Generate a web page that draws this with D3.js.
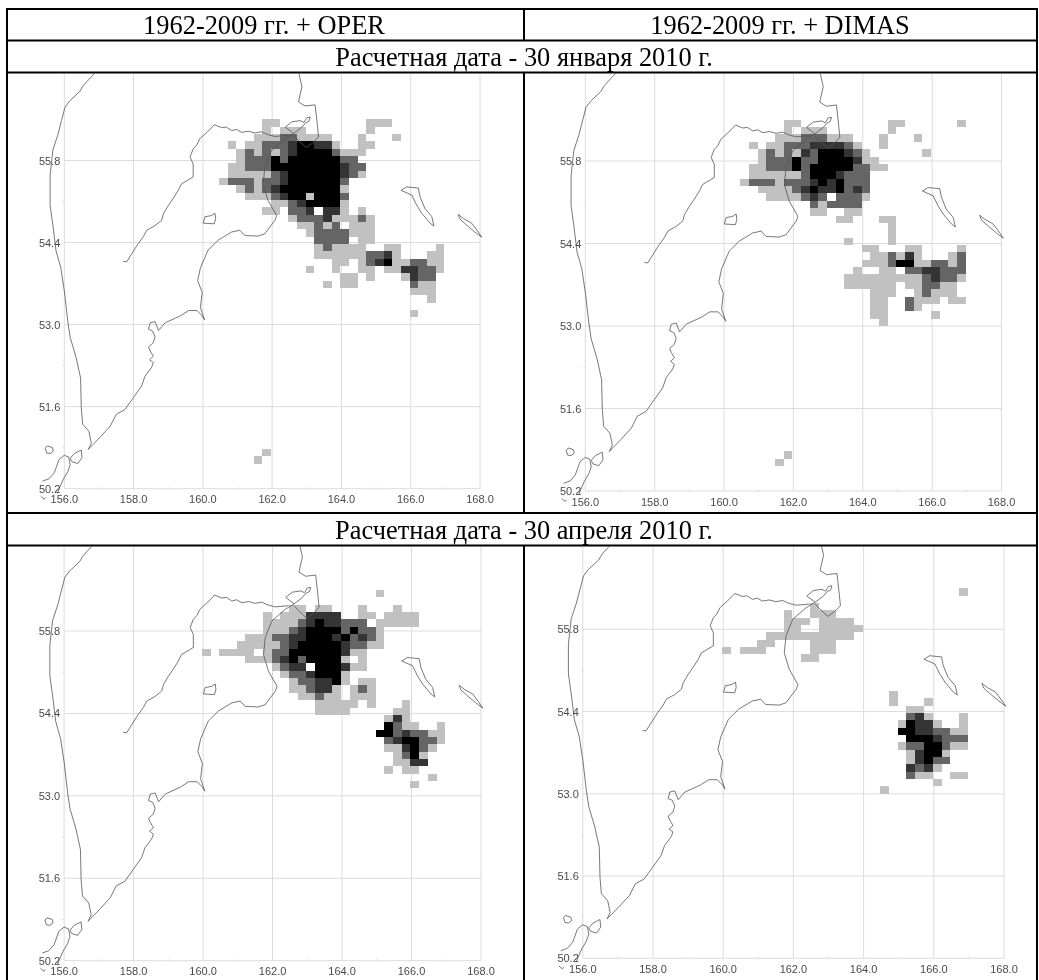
<!DOCTYPE html>
<html>
<head>
<meta charset="utf-8">
<script src="https://cdn.jsdelivr.net/npm/d3@7/dist/d3.min.js"></script>
<style>
html,body{margin:0;padding:0;background:#fff;}
svg{display:block;filter:blur(0.3px);}
.cells{filter:blur(0.35px);}
.tick-label{font-family:"Liberation Sans",Arial,sans-serif;font-size:11px;fill:#4a4a4a;}
.head{font-family:"Liberation Serif","Times New Roman",serif;font-size:26.4px;fill:#000;text-anchor:middle;}
</style>
</head>
<body>
<svg id="chart" width="1039" height="980"></svg>
<script>
// ---------- text ----------
const columnTitles = ["1962-2009 гг. + OPER", "1962-2009 гг. + DIMAS"];
const dateTitles = ["Расчетная дата - 30 января 2010 г.", "Расчетная дата - 30 апреля 2010 г."];
const lonTicks = [156, 158, 160, 162, 164, 166, 168];
const latTicks = [55.8, 54.4, 53.0, 51.6, 50.2];
const lonMinor = [157, 159, 161, 163, 165, 167];
const latMinor = [55.1, 53.7, 52.3, 50.9];

// ---------- model grid: 0.25 x 0.125 degree, rows from 56.5N, columns from 160E ----------
const cellLon = 0.25, cellLat = 0.125, gridLon0 = 159.97, gridLat0 = 56.5;
const levels = ["1", "2", "3", "4"];
const levelColors = ["#c1c1c1", "#656565", "#343434", "#000000"];

const gridOper = [
".......11..........111......",
".......1.111.......1........",
"......111221111...1...1.....",
"...1.11222344331..11........",
"....121212344442111.........",
"....12224244444422..........",
"...11222444444443 22.........".replace(" ", ""),
"...1111123444444321.........",
"..1222122344444 42...........".replace(" ", ""),
"....12123444444 41...........".replace(" ", ""),
".....11123441444 2...........".replace(" ", ""),
"........1123444 41...........".replace(" ", ""),
".......11.223.331.1.........",
"..........1222 3111 21........".replace(/ /g, ""),
"...........112 12.111........".replace(" ", ""),
"............12222111........",
".............2222.11........",
".............121111..11....1",
".............11111122 31...11".replace(" ", ""),
"...............11.123411 2211".replace(" ", ""),
"............1..1..11.1133221",
"................11.1...1322.",
"..............1.11......211.",
"........................111.",
"..........................1.",
"............................",
"........................1..."
];
const gridDimas = [
".......11..........11......1",
".......1.111.......1........",
"......111222111...1...1.....",
"...1.11222333321..1.........",
"....12121324443 21......1....".replace(" ", ""),
"....1222422444431 1..........".replace(" ", ""),
"...1122242444442 211.........".replace(" ", ""),
"...1111112444322 2...........".replace(" ", ""),
"..1222122234342 22...........".replace(" ", ""),
"....11112343342 32...........".replace(" ", ""),
".....1111232.2221...........",
"..........212222............",
"..........11..11............",
".............11...11........",
"...................1........",
"...................1........",
"..............1....1........",
"................11...11....1",
".................1121 31...12".replace(" ", ""),
"................11124411 2212".replace(" ", ""),
"...............1..11.2233222",
"..............111111111232 21".replace(" ", ""),
"..............111111.1122 11.".replace(" ", ""),
".................111..12111.",
".................11..2111.11",
".................11..21.....",
".................11.....1...",
"..................1........."
];
const gridDimasSouth = [".......1", "......1"];
const gridOperSouth = [".......1", "......1"];
const southRowStart = 45;

const gridOperApr = [
"....................1.......",
"............................",
"..........11.11...1...1.....",
".......1.1113333..11.1111...",
".......1111234 33222.11111...".replace(" ", ""),
".......11123444424221.......",
".....111223344434232 1.......".replace(" ", ""),
"....111112344444322 11.......".replace(" ", ""),
"1.1111.122444444311.........",
".....1112342444 41.1.........".replace(" ", ""),
"........12 33.44431 1.........".replace(/ /g, ""),
".........12234441...........",
"..........12233 41.11........".replace(" ", ""),
"..........11233 1.121........".replace(" ", ""),
"...........11211.111........",
".............11111.1...1....",
".............1111.....11....",
".....................131....",
".....................4211..1",
"....................44232211",
".....................2344221",
".....................113421.",
"......................1241..",
"......................113 3..".replace(" ", ""),
".....................1.11...",
"..........................1.",
"........................1..."
];
const gridDimasApr = [
"...........................1",
"............................",
"..........1.................",
".......1..111...............",
".......111.1111.............",
".......11..11111............",
".....1111111111.............",
"....11....111...............",
"1.111.....111...............",
".........11.................",
"............................",
"............................",
"............................",
"............................",
"...................1........",
"...................1...1....",
".....................11.....",
".....................231...1",
"....................14331..1",
"....................44332211",
".....................4443222",
"....................12244211",
".....................13441..",
".....................13422..",
".....................3231...",
".....................211..11",
"........................1...",
"..................1........."
];

// ---------- coastline, lon/lat ----------
const coastWest = [[156.90,57.30],[156.72,57.19],[156.55,57.08],[156.45,56.98],[156.16,56.82],[156.02,56.71],[155.92,56.48],[155.81,56.23],[155.67,55.98],[155.59,55.55],[155.59,55.04],[155.67,54.70],[155.76,54.26],[155.90,53.97],[155.97,53.69],[156.00,53.58],[156.10,53.06],[156.17,52.78],[156.34,52.44],[156.47,52.09],[156.49,51.58],[156.53,51.30],[156.71,51.18],[156.78,50.98],[156.69,50.87]];
const coastEast = [[156.69,50.87],[157.02,51.07],[157.33,51.27],[157.50,51.47],[157.75,51.55],[157.99,51.75],[158.23,51.95],[158.33,52.12],[158.52,52.27],[158.57,52.35],[158.46,52.40],[158.57,52.46],[158.48,52.55],[158.43,52.62],[158.57,52.69],[158.62,52.79],[158.55,52.89],[158.43,52.92],[158.48,53.03],[158.62,53.05],[158.72,52.90],[158.91,53.03],[159.35,53.15],[159.59,53.24],[159.83,53.24],[159.98,53.15],[160.05,53.08],[159.93,53.29],[159.98,53.55],[159.85,53.75],[159.93,53.97],[160.15,54.27],[160.44,54.44],[160.83,54.58],[161.07,54.61],[161.21,54.52],[161.60,54.51],[161.79,54.55],[162.08,54.78],[162.13,54.86],[161.88,55.12],[161.74,55.40],[161.79,55.69],[161.98,55.97],[162.37,56.17],[162.62,56.26],[162.38,56.37],[162.57,56.46],[162.81,56.48],[162.92,56.45],[163.00,56.53],[163.10,56.54],[163.06,56.47],[162.96,56.44],[162.86,56.37],[162.62,56.26]];
const coastNeck = [[162.76,57.32],[162.86,57.06],[162.76,56.80],[162.95,56.73],[163.24,56.75],[163.27,56.60],[163.31,56.38],[163.34,56.20],[163.17,56.10],[162.98,56.02],[162.78,56.13],[162.62,56.23]];
const coastNorth = [[162.46,56.23],[162.08,56.21],[161.88,56.24],[161.69,56.29],[161.50,56.27],[161.31,56.30],[161.12,56.28],[160.97,56.33],[160.83,56.31],[160.68,56.37],[160.54,56.36],[160.33,56.41],[160.17,56.31],[159.91,56.17],[159.82,56.06],[159.72,56.00],[159.63,55.86],[159.72,55.74],[159.72,55.52],[159.38,55.40],[159.29,55.29],[159.14,55.15],[159.00,55.03],[158.86,54.89],[158.81,54.78],[158.62,54.69],[158.38,54.61],[158.28,54.50],[158.13,54.38],[157.80,54.07],[157.70,54.08]];
const islandKarag = [[160.01,54.73],[160.06,54.84],[160.25,54.86],[160.35,54.90],[160.37,54.81],[160.33,54.72],[160.01,54.73]];
const islandBering = [[165.72,55.29],[165.88,55.35],[166.22,55.33],[166.27,55.18],[166.41,54.98],[166.61,54.84],[166.67,54.68],[166.56,54.73],[166.32,54.90],[166.17,55.04],[166.03,55.21],[165.72,55.29]];
const islandMedny = [[167.37,54.88],[167.52,54.81],[167.76,54.73],[167.95,54.58],[168.05,54.49],[167.85,54.58],[167.61,54.70],[167.42,54.80],[167.37,54.88]];
const islandAtlasov = [[155.45,50.89],[155.51,50.93],[155.66,50.90],[155.68,50.84],[155.59,50.80],[155.49,50.81],[155.45,50.89]];
const islandParam = [[155.37,50.33],[155.56,50.37],[155.71,50.47],[155.85,50.70],[156.00,50.77],[156.13,50.74],[156.17,50.61],[156.10,50.49],[155.97,50.36],[155.85,50.20],[155.81,50.13]];
const islandShumshu = [[156.17,50.72],[156.29,50.80],[156.49,50.86],[156.51,50.73],[156.39,50.63],[156.22,50.66],[156.17,50.72]];
const islandSouth = [[155.32,50.07],[155.42,50.02],[155.45,50.05]];
const coastLines = [coastWest, coastEast, coastNeck, coastNorth, islandKarag, islandBering, islandMedny, islandAtlasov, islandParam, islandShumshu, islandSouth];

// ---------- layout ----------
const colX = [7, 524, 1037];
const rowY = [9, 40.5, 72.5, 513, 545.5, 982];
const panels = [
  {grid: gridOper, south: gridOperSouth, x: [64.3, 480], y: [160.5, 488.7], clip: [8, 73.5, 515.5, 439]},
  {grid: gridDimas, south: gridDimasSouth, x: [585.3, 1001.5], y: [161, 491], clip: [525, 73.5, 511, 439]},
  {grid: gridOperApr, south: [], x: [64.1, 481], y: [631, 960.7], clip: [8, 546.5, 515.5, 434]},
  {grid: gridDimasApr, south: [], x: [582.8, 1004], y: [629.3, 958.3], clip: [525, 546.5, 511, 434]}
];

const svg = d3.select("#chart");
const color = d3.scaleOrdinal().domain(levels).range(levelColors);
const defs = svg.append("defs");

panels.forEach((p, i) => {
  const x = d3.scaleLinear().domain([156, 168]).range(p.x).interpolate(d3.interpolateNumber);
  const y = d3.scaleLinear().domain([55.8, 50.2]).range(p.y);
  defs.append("clipPath").attr("id", "clip" + i).append("rect")
    .attr("x", p.clip[0]).attr("y", p.clip[1]).attr("width", p.clip[2]).attr("height", p.clip[3]);
  const g = svg.append("g").attr("clip-path", "url(#clip" + i + ")");
  const top = p.clip[1], bottom = p.y[1];

  // grid
  g.append("g").selectAll("line").data(lonTicks).join("line")
    .attr("x1", d => x(d)).attr("x2", d => x(d)).attr("y1", top).attr("y2", bottom)
    .attr("stroke", "#dcdcdc").attr("stroke-width", 1);
  g.append("g").selectAll("line").data(latTicks).join("line")
    .attr("x1", x(156)).attr("x2", x(168)).attr("y1", d => y(d)).attr("y2", d => y(d))
    .attr("stroke", "#dcdcdc").attr("stroke-width", 1);
  g.append("g").selectAll("line").data(lonMinor).join("line")
    .attr("x1", d => x(d)).attr("x2", d => x(d)).attr("y1", bottom - 2).attr("y2", bottom + 1)
    .attr("stroke", "#e2e2e2");
  g.append("g").selectAll("line").data(latMinor).join("line")
    .attr("x1", x(156) - 2).attr("x2", x(156) + 1).attr("y1", d => y(d)).attr("y2", d => y(d))
    .attr("stroke", "#e2e2e2");

  // cells
  const cells = [];
  p.grid.forEach((row, r) => row.split("").forEach((ch, c) => {
    if (levels.includes(ch)) cells.push({r, c, ch});
  }));
  p.south.forEach((row, k) => row.split("").forEach((ch, c) => {
    if (levels.includes(ch)) cells.push({r: southRowStart + k, c, ch});
  }));
  const edgeX = c => Math.round(x(gridLon0 + c * cellLon));
  const edgeY = r => Math.round(y(gridLat0 - r * cellLat));
  g.append("g").attr("class", "cells").attr("shape-rendering", "crispEdges")
    .selectAll("rect").data(cells).join("rect")
    .attr("x", d => edgeX(d.c))
    .attr("width", d => edgeX(d.c + 1) - edgeX(d.c))
    .attr("y", d => edgeY(d.r))
    .attr("height", d => edgeY(d.r + 1) - edgeY(d.r))
    .attr("fill", d => color(d.ch));

  // coast
  const line = d3.line().x(d => x(d[0])).y(d => y(d[1]));
  g.append("g").selectAll("path").data(coastLines).join("path")
    .attr("d", line).attr("fill", "none").attr("stroke", "#555555").attr("stroke-width", 0.8);

  // tick labels
  g.append("g").selectAll("text").data(lonTicks).join("text").attr("class", "tick-label")
    .attr("x", d => x(d)).attr("y", bottom + 14.5).attr("text-anchor", "middle")
    .text(d => d3.format(".1f")(d));
  g.append("g").selectAll("text").data(latTicks).join("text").attr("class", "tick-label")
    .attr("x", x(156) - 4).attr("y", d => y(d) + 4).attr("text-anchor", "end")
    .text(d => d3.format(".1f")(d));
});

// table rules
const midSegments = [[rowY[0], rowY[1]], [rowY[2], rowY[3]], [rowY[4], rowY[5]]];
svg.append("g").selectAll("line").data(rowY.slice(0, 5)).join("line")
  .attr("x1", colX[0] - 1).attr("x2", colX[2] + 1).attr("y1", d => d).attr("y2", d => d)
  .attr("stroke", "#000").attr("stroke-width", 2);
svg.append("g").selectAll("line").data([colX[0], colX[2]]).join("line")
  .attr("x1", d => d).attr("x2", d => d).attr("y1", rowY[0] - 1).attr("y2", rowY[5])
  .attr("stroke", "#000").attr("stroke-width", 2);
svg.append("g").selectAll("line").data(midSegments).join("line")
  .attr("x1", colX[1]).attr("x2", colX[1]).attr("y1", d => d[0]).attr("y2", d => d[1])
  .attr("stroke", "#000").attr("stroke-width", 2);

// headers
svg.append("g").selectAll("text").data(columnTitles).join("text").attr("class", "head")
  .attr("x", (d, i) => i === 0 ? 264 : 780).attr("y", 34).text(d => d);
svg.append("g").selectAll("text").data(dateTitles).join("text").attr("class", "head")
  .attr("x", 524).attr("y", (d, i) => i === 0 ? 66 : 539).text(d => d);
</script>
</body>
</html>
